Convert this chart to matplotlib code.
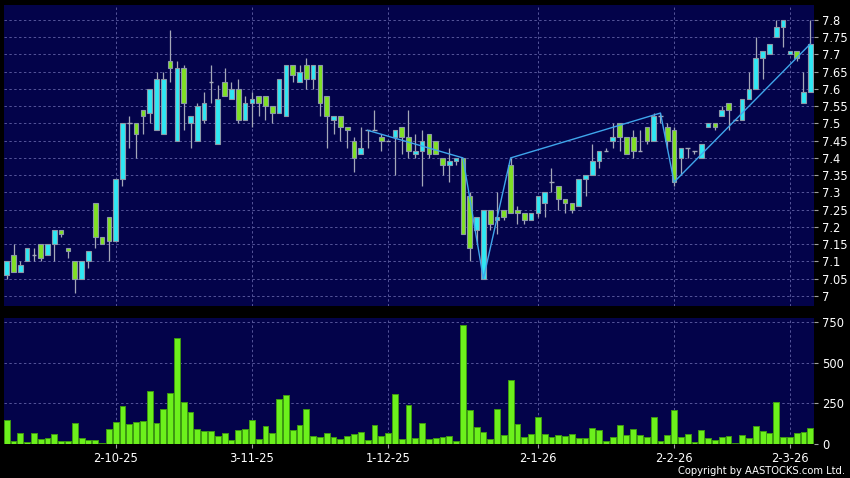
import matplotlib
matplotlib.use("Agg")
import matplotlib.pyplot as plt
import numpy as np

# ---- data ----
opens = [7.06, 7.12, 7.07, 7.10, 7.12, 7.15, 7.12, 7.15, 7.19, 7.14,
         7.10, 7.05, 7.10, 7.27, 7.17, 7.23, 7.16, 7.34, 7.50, 7.50,
         7.54, 7.53, 7.48, 7.47, 7.68, 7.45, 7.66, 7.50, 7.45, 7.51,
         7.62, 7.44, 7.62, 7.57, 7.60, 7.51, 7.56, 7.58, 7.58, 7.55,
         7.53, 7.52, 7.67, 7.62, 7.67, 7.63, 7.67, 7.58, 7.51, 7.52,
         7.49, 7.45, 7.41, 7.48, 7.48, 7.46, 7.45, 7.46, 7.49, 7.46,
         7.41, 7.42, 7.47, 7.45, 7.40, 7.38, 7.39, 7.40, 7.29, 7.19,
         7.05, 7.25, 7.22, 7.25, 7.38, 7.25, 7.24, 7.22, 7.24, 7.27,
         7.33, 7.32, 7.28, 7.27, 7.26, 7.34, 7.35, 7.39, 7.42, 7.45,
         7.50, 7.46, 7.46, 7.42, 7.49, 7.45, 7.52, 7.49, 7.48, 7.40,
         7.43, 7.42, 7.40, 7.49, 7.50, 7.52, 7.56, 7.51, 7.51, 7.57,
         7.60, 7.69, 7.70, 7.75, 7.78, 7.70, 7.71, 7.56, 7.59]
highs = [7.10, 7.15, 7.10, 7.14, 7.14, 7.15, 7.15, 7.19, 7.19, 7.14,
         7.10, 7.10, 7.13, 7.27, 7.17, 7.23, 7.34, 7.50, 7.52, 7.50,
         7.54, 7.60, 7.65, 7.65, 7.77, 7.68, 7.67, 7.52, 7.56, 7.59,
         7.67, 7.61, 7.66, 7.62, 7.63, 7.58, 7.59, 7.58, 7.58, 7.55,
         7.63, 7.67, 7.67, 7.67, 7.69, 7.67, 7.67, 7.58, 7.52, 7.52,
         7.49, 7.46, 7.49, 7.48, 7.54, 7.47, 7.45, 7.48, 7.49, 7.54,
         7.47, 7.48, 7.47, 7.45, 7.40, 7.43, 7.40, 7.40, 7.30, 7.23,
         7.25, 7.25, 7.30, 7.25, 7.40, 7.26, 7.24, 7.24, 7.29, 7.30,
         7.37, 7.32, 7.28, 7.27, 7.34, 7.35, 7.44, 7.42, 7.43, 7.50,
         7.50, 7.46, 7.48, 7.48, 7.49, 7.53, 7.53, 7.50, 7.49, 7.43,
         7.43, 7.42, 7.44, 7.50, 7.50, 7.55, 7.56, 7.51, 7.57, 7.65,
         7.75, 7.71, 7.73, 7.80, 7.80, 7.71, 7.71, 7.65, 7.80]
lows = [7.05, 7.07, 7.07, 7.10, 7.10, 7.10, 7.12, 7.10, 7.17, 7.11,
        7.01, 7.05, 7.08, 7.14, 7.15, 7.10, 7.16, 7.32, 7.43, 7.40,
        7.47, 7.50, 7.48, 7.47, 7.62, 7.45, 7.48, 7.43, 7.45, 7.50,
        7.56, 7.44, 7.58, 7.57, 7.50, 7.51, 7.49, 7.52, 7.51, 7.50,
        7.53, 7.52, 7.62, 7.62, 7.60, 7.60, 7.52, 7.43, 7.47, 7.45,
        7.43, 7.36, 7.41, 7.43, 7.48, 7.42, 7.45, 7.35, 7.41, 7.40,
        7.40, 7.32, 7.40, 7.41, 7.35, 7.33, 7.38, 7.18, 7.10, 7.15,
        7.05, 7.19, 7.18, 7.22, 7.24, 7.21, 7.21, 7.22, 7.23, 7.23,
        7.30, 7.25, 7.24, 7.24, 7.26, 7.29, 7.35, 7.37, 7.42, 7.43,
        7.42, 7.41, 7.40, 7.42, 7.44, 7.45, 7.50, 7.43, 7.32, 7.35,
        7.40, 7.41, 7.40, 7.49, 7.48, 7.52, 7.48, 7.51, 7.51, 7.57,
        7.60, 7.63, 7.70, 7.75, 7.72, 7.70, 7.68, 7.56, 7.59]
closes = [7.10, 7.07, 7.09, 7.14, 7.12, 7.11, 7.15, 7.19, 7.18, 7.13,
          7.05, 7.10, 7.13, 7.17, 7.15, 7.16, 7.34, 7.50, 7.50, 7.47,
          7.52, 7.60, 7.63, 7.63, 7.66, 7.66, 7.56, 7.52, 7.55, 7.56,
          7.62, 7.57, 7.58, 7.60, 7.51, 7.56, 7.57, 7.56, 7.55, 7.53,
          7.63, 7.67, 7.64, 7.65, 7.63, 7.67, 7.56, 7.52, 7.52, 7.49,
          7.48, 7.40, 7.43, 7.48, 7.48, 7.45, 7.45, 7.48, 7.46, 7.42,
          7.42, 7.45, 7.41, 7.41, 7.38, 7.39, 7.40, 7.18, 7.14, 7.23,
          7.25, 7.21, 7.23, 7.23, 7.24, 7.24, 7.22, 7.24, 7.29, 7.30,
          7.33, 7.28, 7.27, 7.25, 7.34, 7.35, 7.39, 7.42, 7.42, 7.46,
          7.46, 7.41, 7.42, 7.42, 7.45, 7.52, 7.52, 7.45, 7.33, 7.43,
          7.43, 7.42, 7.44, 7.50, 7.49, 7.54, 7.54, 7.51, 7.57, 7.60,
          7.69, 7.71, 7.73, 7.78, 7.80, 7.71, 7.69, 7.59, 7.73]
volumes = [144, 19, 68, 12, 68, 29, 33, 58, 19, 19,
           128, 37, 21, 21, 4, 93, 134, 231, 122, 134,
           140, 325, 130, 216, 315, 655, 255, 198, 91, 78,
           76, 45, 68, 23, 87, 93, 144, 29, 107, 68,
           274, 299, 84, 115, 216, 49, 43, 64, 41, 31,
           47, 60, 70, 21, 115, 47, 66, 309, 27, 239,
           35, 128, 27, 33, 43, 47, 19, 733, 208, 101,
           72, 29, 214, 54, 391, 119, 39, 62, 163, 62,
           39, 54, 45, 62, 37, 37, 95, 84, 14, 43,
           115, 56, 89, 52, 41, 165, 14, 56, 208, 41,
           58, 12, 82, 35, 21, 39, 45, 6, 54, 37,
           107, 80, 68, 258, 39, 39, 64, 70, 95]
zigzag_idx = [53, 67, 70, 74, 96, 98, 118]
zigzag_val = [7.48, 7.40, 7.05, 7.40, 7.53, 7.33, 7.73]
date_idx = [16, 36, 56, 78, 98, 115]
date_labels = ["2-10-25", "3-11-25", "1-12-25", "2-1-26", "2-2-26", "2-3-26"]
price_ticks = [7.0, 7.05, 7.1, 7.15, 7.2, 7.25, 7.3, 7.35, 7.4, 7.45,
               7.5, 7.55, 7.6, 7.65, 7.7, 7.75, 7.8]
vol_ticks = [0, 250, 500, 750]

# ---- styling ----
BG = "#000000"
PANEL = "#03034a"
GRID = "#55559a"
UP = "#2ee8f4"
DOWN = "#80e024"
EDGE = "#8c98a8"
WICK = "#a4a8b8"
ZZ = "#3fa6ec"
VOL = "#6cf01c"
VOLEDGE = "#3e9a12"
TXT = "#ffffff"
plt.rcParams["font.family"] = ["DejaVu Sans"]

o = np.array(opens); h = np.array(highs); l = np.array(lows); c = np.array(closes)
x = np.arange(len(o))

fig = plt.figure(figsize=(8.5, 4.78), dpi=100, facecolor=BG)
ax = fig.add_axes([3.5/850, 1-306/478, 810.5/850, 301/478], facecolor=PANEL)
axv = fig.add_axes([3.5/850, 1-444/478, 810.5/850, 125.7/478], facecolor=PANEL)

xlim = (-0.47, 118.55)
for a in (ax, axv):
    a.set_xlim(*xlim)
    for s in a.spines.values():
        s.set_visible(False)
    a.yaxis.tick_right()
    a.tick_params(axis="y", colors="#a0a0a0", labelcolor=TXT, length=3, width=0.8,
                  pad=3, labelsize=8.3, direction="out")
    a.set_xticks(date_idx)
    a.grid(True, color=GRID, linestyle=(0, (2.5, 2.5)), linewidth=0.7)
    a.set_axisbelow(True)

# price panel
ax.set_ylim(6.971, 7.843)
ax.set_yticks(price_ticks)
ax.set_yticklabels([f"{v:g}" for v in price_ticks])
ax.tick_params(axis="x", length=0, labelbottom=False)

ax.vlines(x, l, h, color=WICK, linewidth=0.9, zorder=2)
up = c > o
dn = c < o
eq = c == o
bw = 0.68
ax.bar(x[up], (c - o)[up], bottom=o[up], width=bw, color=UP, edgecolor=EDGE,
       linewidth=0.8, zorder=3)
ax.bar(x[dn], (o - c)[dn], bottom=c[dn], width=bw, color=DOWN, edgecolor=EDGE,
       linewidth=0.8, zorder=3)
ax.hlines(o[eq], x[eq] - bw/2, x[eq] + bw/2, color=WICK, linewidth=1.0, zorder=3)
ax.plot(zigzag_idx, zigzag_val, color=ZZ, linewidth=1.0, zorder=4)

# volume panel
axv.set_ylim(-2, 775)
axv.set_yticks(vol_ticks)
axv.set_yticklabels([str(v) for v in vol_ticks])
axv.bar(x, volumes, width=0.86, color=VOL, edgecolor=VOLEDGE, linewidth=0.7, zorder=3)
axv.set_xticklabels(date_labels)
axv.tick_params(axis="x", colors="#a0a0a0", labelcolor=TXT, length=3, width=0.8,
                pad=3, labelsize=8.3, direction="out")

fig.text(845/850, 1-471/478, "Copyright by AASTOCKS.com Ltd.", color=TXT,
         fontsize=7.2, ha="right", va="center")

fig.savefig("out.png", dpi=100, facecolor=BG)
